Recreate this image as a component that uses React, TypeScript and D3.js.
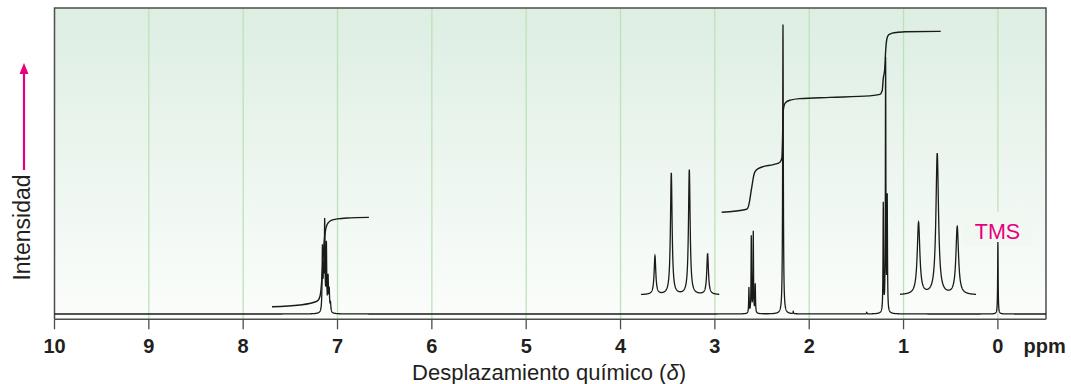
import React from "react";
import * as d3 from "d3";

const W = 1071;
const H = 384;

const tickValues = [10, 9, 8, 7, 6, 5, 4, 3, 2, 1, 0];
const gridValues = [9, 8, 7, 6, 5, 4, 3, 2, 1, 0];

// main spectrum lines (ppm, height in intensity units, half-width in ppm)
const peakPpm = [7.16, 7.148, 7.136, 7.118, 7.1, 7.088, 7.075, 2.639, 2.614, 2.593, 2.572, 2.278, 2.17, 1.39, 1.215, 1.19, 1.173, 0.0];
const peakHeight = [21, 12, 29, 22, 11, 7, 3, 8.5, 25.5, 27, 9.5, 96.5, 0.7, 0.5, 36, 84, 37.5, 24];
const peakWidth = [0.004, 0.004, 0.004, 0.004, 0.004, 0.004, 0.005, 0.003, 0.003, 0.003, 0.003, 0.004, 0.003, 0.003, 0.003, 0.003, 0.003, 0.003];

// expanded quartet inset
const insetQPpm = [3.635, 3.462, 3.271, 3.077];
const insetQHeight = [12.8, 40.5, 41.6, 13.6];
const insetQRange = [3.783, 2.953];
// expanded triplet inset
const insetTPpm = [0.841, 0.643, 0.431];
const insetTHeight = [24, 47, 22.6];
const insetTRange = [1.037, 0.232];

// integral curves
const integral1Ppm = [7.695, 7.4, 7.24, 7.205, 7.185, 7.17, 7.155, 7.14, 7.125, 7.11, 7.09, 7.06, 7.0, 6.9, 6.667];
const integral1Val = [2.4, 3.0, 4.0, 4.6, 6.0, 10.0, 17.5, 24.5, 28.3, 29.8, 30.7, 31.3, 31.7, 32.0, 32.2];
const integral2Ppm = [2.928, 2.663, 2.645, 2.63, 2.617, 2.6, 2.585, 2.56, 2.5, 2.38, 2.31, 2.29, 2.283, 2.278, 2.27, 2.25, 2.2, 2.1, 1.78, 1.36, 1.25, 1.226, 1.215, 1.2, 1.19, 1.178, 1.16, 1.12, 1.06, 0.98, 0.606];
const integral2Val = [33.9, 34.9, 35.8, 38.0, 40.7, 44.0, 46.6, 48.0, 49.0, 49.8, 50.6, 52.0, 58.0, 66.0, 69.0, 70.5, 71.3, 71.8, 72.2, 72.7, 73.2, 74.5, 78.5, 81.5, 87.5, 91.5, 93.0, 93.6, 93.9, 94.1, 94.2];

const fontFamily = "'Liberation Sans', Arial, Helvetica, sans-serif";
const textColor = "#231f20";
const magenta = "#e6007e";

const lorentz = (x: number, c: number, h: number, w: number) => h / (1 + ((x - c) / w) ** 2);

export default function App() {
  const left = 54.5;
  const right = 1046;
  const top = 8;
  const axisY = 319.3;
  const x = d3.scaleLinear().domain([10, -0.51]).range([left, right]);
  const y = d3.scaleLinear().domain([0, 100]).range([314, 14]);

  // main spectrum samples
  const xs: number[] = [];
  for (let p = 10.0; p >= -0.51; p -= 0.001) xs.push(p);
  peakPpm.forEach((p) => xs.push(p));
  xs.sort((a, b) => b - a);
  const mainPts = xs.map((p) => {
    let v = 0;
    for (let i = 0; i < peakPpm.length; i++) v += lorentz(p, peakPpm[i], peakHeight[i], peakWidth[i]);
    return [p, v] as [number, number];
  });

  const makeInset = (ppms: number[], hs: number[], range: number[], w: number, base: number) => {
    const pts: number[] = [];
    for (let p = range[0]; p >= range[1]; p -= 0.001) pts.push(p);
    ppms.forEach((p) => pts.push(p));
    pts.sort((a, b) => b - a);
    return pts.map((p) => {
      let v = base;
      for (let i = 0; i < ppms.length; i++) v += lorentz(p, ppms[i], hs[i], w);
      return [p, v] as [number, number];
    });
  };
  const insetQ = makeInset(insetQPpm, insetQHeight, insetQRange, 0.0105, 6.4);
  const insetT = makeInset(insetTPpm, insetTHeight, insetTRange, 0.0165, 6.3);

  const line = d3
    .line<[number, number]>()
    .x((d) => x(d[0]))
    .y((d) => y(d[1]));
  const smooth = d3
    .line<[number, number]>()
    .x((d) => x(d[0]))
    .y((d) => y(d[1]))
    .curve(d3.curveMonotoneX);

  const int1 = integral1Ppm.map((p, i) => [p, integral1Val[i]] as [number, number]);
  const int2 = integral2Ppm.map((p, i) => [p, integral2Val[i]] as [number, number]);

  return (
    <div style={{ position: "absolute", left: 0, top: 0 }}>
      <svg width={W} height={H} style={{ display: "block" }}>
        <defs>
          <linearGradient id="bg" x1="0" y1="0" x2="0" y2="1">
            <stop offset="0" stopColor="#ddeee3" />
            <stop offset="1" stopColor="#fbfdfb" />
          </linearGradient>
        </defs>
        <rect x={left} y={top} width={right - left} height={axisY - top} fill="url(#bg)" />
        {gridValues.map((g) => (
          <line key={g} x1={x(g)} x2={x(g)} y1={top} y2={axisY} stroke="#bde2b8" strokeWidth={1.3} />
        ))}
        {/* TMS label box */}
        <rect x={962.7} y={211.7} width={70} height={34} fill="#f1f8f2" />
        {/* frame */}
        <path
          d={`M${left},${axisY}V${top}H${right}V${axisY}`}
          fill="none"
          stroke="#4d4d4d"
          strokeWidth={1.5}
        />
        <line x1={left} x2={right} y1={axisY} y2={axisY} stroke="#4d4d4d" strokeWidth={1.5} />
        {tickValues.map((t) => (
          <g key={t}>
            <line x1={x(t)} x2={x(t)} y1={axisY} y2={axisY + 10} stroke="#4d4d4d" strokeWidth={1.3} />
            <text
              x={x(t)}
              y={353}
              textAnchor="middle"
              fontFamily={fontFamily}
              fontWeight="bold"
              fontSize={20}
              fill={textColor}
            >
              {t}
            </text>
          </g>
        ))}
        <text x={1023.5} y={353} fontFamily={fontFamily} fontWeight="bold" fontSize={20} fill={textColor}>
          ppm
        </text>
        <text x={549} y={380} textAnchor="middle" fontFamily={fontFamily} fontSize={22} fill={textColor}>
          Desplazamiento químico (<tspan fontStyle="italic">δ</tspan>)
        </text>
        <text
          transform={`translate(30,227.5) rotate(-90)`}
          textAnchor="middle"
          fontFamily={fontFamily}
          fontSize={23}
          fill={textColor}
        >
          Intensidad
        </text>
        <line x1={24} x2={24} y1={170} y2={72} stroke={magenta} strokeWidth={2.2} />
        <path d="M24,63 L19.5,74 L28.5,74 Z" fill={magenta} />
        {/* spectrum */}
        <path d={line(mainPts) || ""} fill="none" stroke="#1a1a1a" strokeWidth={1.3} />
        <path d={line(insetQ) || ""} fill="none" stroke="#1a1a1a" strokeWidth={1.3} />
        <path d={line(insetT) || ""} fill="none" stroke="#1a1a1a" strokeWidth={1.3} />
        <path d={smooth(int1) || ""} fill="none" stroke="#1a1a1a" strokeWidth={1.4} />
        <path d={smooth(int2) || ""} fill="none" stroke="#1a1a1a" strokeWidth={1.4} />
        <text x={997.5} y={239} textAnchor="middle" fontFamily={fontFamily} fontSize={21.5} fill={magenta}>
          TMS
        </text>
      </svg>
    </div>
  );
}
